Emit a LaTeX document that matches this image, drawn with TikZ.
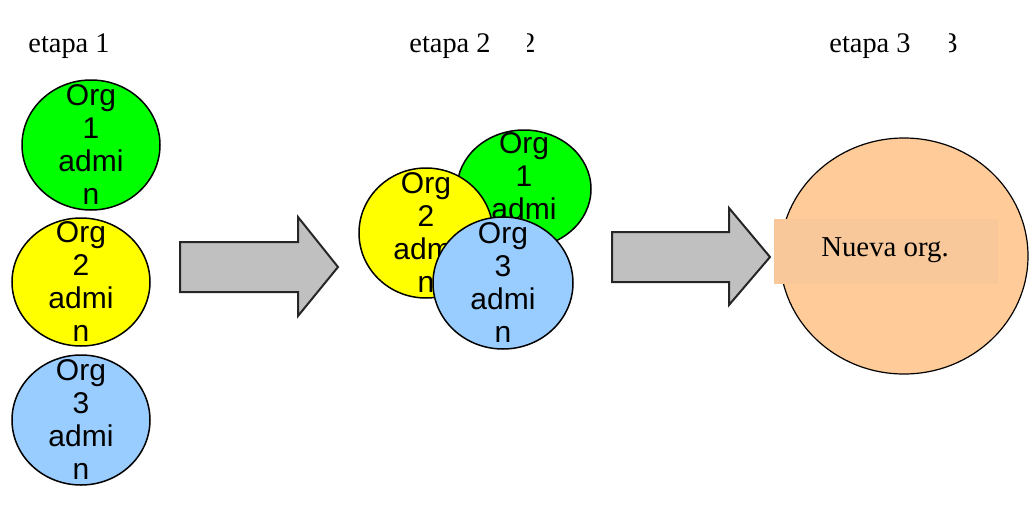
\documentclass[tikz,border=0pt]{standalone}
\usepackage{fontspec}
\setmainfont{Liberation Serif}
\newfontfamily\orgfont{Liberation Sans}
\usetikzlibrary{shapes.geometric}
\definecolor{orggreen}{HTML}{00FF00}
\definecolor{orgyellow}{HTML}{FFFF00}
\definecolor{orgblue}{HTML}{99CCFF}
\definecolor{neworg}{HTML}{FFCC99}
\definecolor{neworgbox}{HTML}{F8C89B}
\definecolor{arrowgray}{HTML}{C0C0C0}
\tikzset{
  orgcircle/.style={ellipse, draw=black, line width=0.75pt, inner sep=0pt},
  orgtext/.style={align=center, inner sep=0pt,
    font=\orgfont\fontsize{15}{16.5}\selectfont},
  stagelabel/.style={anchor=base west, inner sep=0pt,
    font=\fontsize{14.2}{16}\selectfont},
  bigarrow/.style={fill=arrowgray, draw=black!85, line width=1pt, line join=miter},
}
\begin{document}
\begin{tikzpicture}[x=0.5pt, y=-0.5pt]
\useasboundingbox (0,0) rectangle (1029,504);

% stage titles
\node[stagelabel] (t1) at (28,52) {etapa 1};
\node[stagelabel] (t2) at (409,52) {etapa 2};
\node[stagelabel] (t3) at (829,52) {etapa 3};
\begin{scope}
  \clip (527,0) rectangle (560,80);
  \node[stagelabel, anchor=base east] (t2b) at (536,52) {2};
\end{scope}
\begin{scope}
  \clip (949,0) rectangle (980,80);
  \node[stagelabel, anchor=base east] (t3b) at (958,52) {3};
\end{scope}

% stage 1: three separate organisations
\node[orgcircle, fill=orggreen, minimum width=69pt, minimum height=65pt] (a1) at (91,145) {};
\node[orgtext] at (a1) {Org\\1\\admi\\n};
\node[orgcircle, fill=orgyellow, minimum width=69pt, minimum height=64pt] (a2) at (81,282) {};
\node[orgtext] at (a2) {Org\\2\\admi\\n};
\node[orgcircle, fill=orgblue, minimum width=69pt, minimum height=65pt] (a3) at (81,420) {};
\node[orgtext] at (a3) {Org\\3\\admi\\n};

% block arrow 1
\draw[bigarrow] (180,242) -- (298,242) -- (298,217) -- (338,267)
  -- (298,316) -- (298,292) -- (180,292) -- cycle;

% stage 2: overlapping organisations
\node[orgcircle, fill=orggreen, minimum width=67pt, minimum height=59pt] (b1) at (524,189) {};
\node[orgtext] at ([yshift=-2pt]b1) {Org\\1\\admi\\n};
\node[orgcircle, fill=orgyellow, minimum width=67pt, minimum height=65pt] (b2) at (426,233) {};
\node[orgtext] at (b2) {Org\\2\\admi\\n};
\node[orgcircle, fill=orgblue, minimum width=70pt, minimum height=66pt] (b3) at (503,283) {};
\node[orgtext] at (b3) {Org\\3\\admi\\n};

% block arrow 2
\draw[bigarrow] (612,232) -- (729,232) -- (729,208) -- (770,257)
  -- (729,305) -- (729,282) -- (612,282) -- cycle;

% stage 3: merged organisation
\node[ellipse, draw=black, line width=0.6pt, fill=neworg, inner sep=0pt,
  minimum width=124pt, minimum height=118pt] (c) at (904,256) {};
\fill[neworgbox] (774,219) rectangle (998,284);
\node[anchor=base, inner sep=0pt, font=\fontsize{14.4}{16}\selectfont] (cl) at (885,256) {Nueva org.};
\end{tikzpicture}
\end{document}
